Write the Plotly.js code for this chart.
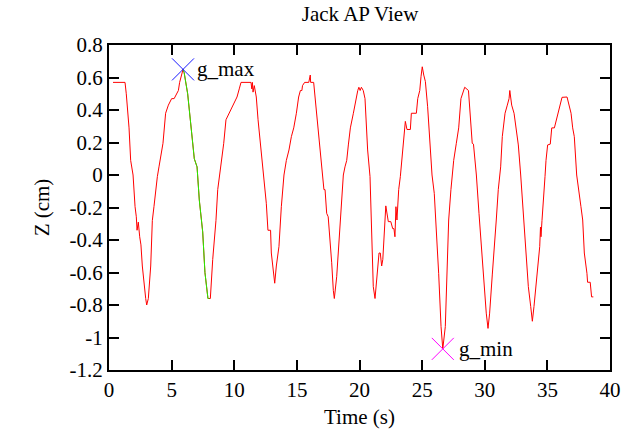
<!DOCTYPE html>
<html>
<head>
<meta charset="utf-8">
<script src="https://cdn.plot.ly/plotly-3.0.1.min.js"></script>
<style>html,body{margin:0;padding:0;background:#fff;}#chart{width:624px;height:440px;}</style>
</head>
<body>
<div id="chart"></div>
<script>
// Main trace: time (s) and Z (cm)
var timeS = [0.32,1.28,1.38,1.6,1.73,1.92,2.08,2.18,2.24,2.34,2.45,2.55,2.66,2.79,2.93,3.01,3.14,3.33,3.46,3.59,3.73,3.86,3.99,4.18,4.31,4.52,4.74,5.0,5.2,5.54,5.64,5.91,6.0,6.28,6.55,6.81,7.03,7.21,7.48,7.66,7.9,8.0,8.09,8.28,8.41,8.54,8.68,8.94,9.16,9.34,9.61,10.0,10.22,10.4,10.54,11.34,11.4,11.45,11.5,11.6,11.76,11.9,12.16,12.35,12.56,12.69,12.9,12.96,13.09,13.23,13.36,13.57,13.76,13.97,14.16,14.37,14.56,14.75,14.96,15.14,15.28,15.4,15.45,15.62,15.95,16.07,16.1,16.34,16.55,16.82,17.0,17.16,17.25,17.38,17.5,17.64,17.78,17.91,17.99,18.18,18.31,18.44,18.58,18.71,18.84,18.98,19.11,19.27,19.51,19.7,19.86,19.95,20.05,20.15,20.3,20.44,20.65,20.84,20.97,21.1,21.24,21.37,21.56,21.66,21.77,21.86,22.04,22.1,22.3,22.5,22.65,22.75,22.83,22.91,22.99,23.13,23.26,23.39,23.53,23.66,23.79,24.06,24.14,24.54,24.65,24.81,24.91,25.01,25.13,25.26,25.44,25.6,25.79,25.97,26.13,26.32,26.51,26.65,26.85,26.99,27.12,27.3,27.52,27.73,27.92,28.1,28.32,28.4,28.7,28.74,29.0,29.1,29.33,29.54,29.76,29.94,30.12,30.26,30.39,30.6,30.74,30.92,31.08,31.27,31.4,31.62,31.8,31.94,32.0,32.1,32.15,32.34,32.47,32.68,32.87,33.05,33.27,33.48,33.67,33.8,33.93,34.07,34.2,34.39,34.45,34.49,34.57,34.7,34.81,34.89,35.02,35.23,35.35,35.56,35.69,35.87,36.03,36.17,36.57,36.7,36.89,37.02,37.15,37.34,37.47,37.68,37.82,37.95,38.16,38.21,38.42,38.53,38.67];
var zCm = [0.57,0.57,0.50,0.29,0.09,0.0,-0.195,-0.257,-0.34,-0.29,-0.38,-0.43,-0.56,-0.68,-0.76,-0.80,-0.76,-0.56,-0.28,-0.195,-0.09,-0.01,0.05,0.13,0.195,0.38,0.43,0.47,0.47,0.52,0.57,0.65,0.63,0.50,0.29,0.10,0.05,-0.154,-0.35,-0.60,-0.76,-0.76,-0.76,-0.52,-0.40,-0.28,-0.09,0.05,0.195,0.34,0.38,0.44,0.48,0.53,0.57,0.57,0.53,0.57,0.51,0.55,0.48,0.34,0.133,0.0,-0.174,-0.34,-0.34,-0.48,-0.56,-0.666,-0.56,-0.44,-0.195,0.0,0.09,0.154,0.236,0.29,0.38,0.48,0.52,0.52,0.55,0.57,0.57,0.615,0.57,0.57,0.40,0.195,0.05,-0.09,-0.09,-0.236,-0.257,-0.38,-0.54,-0.71,-0.76,-0.626,-0.48,-0.277,-0.154,0.0,0.05,0.09,0.185,0.29,0.38,0.47,0.52,0.54,0.52,0.54,0.52,0.47,0.154,-0.01,-0.44,-0.687,-0.76,-0.646,-0.48,-0.48,-0.56,-0.52,-0.195,-0.19,-0.287,-0.287,-0.33,-0.33,-0.38,-0.195,-0.277,-0.09,-0.01,0.113,0.215,0.33,0.28,0.28,0.38,0.38,0.47,0.52,0.605,0.666,0.615,0.575,0.42,0.195,0.0,-0.113,-0.318,-0.605,-0.933,-1.07,-0.933,-0.564,-0.277,-0.09,0.09,0.195,0.29,0.47,0.52,0.54,0.52,0.47,0.195,0.19,0.0,-0.236,-0.46,-0.687,-0.85,-0.944,-0.85,-0.615,-0.44,-0.277,-0.09,0.05,0.236,0.38,0.43,0.47,0.52,0.47,0.43,0.38,0.30,0.185,0.0,-0.195,-0.48,-0.687,-0.81,-0.90,-0.81,-0.687,-0.564,-0.44,-0.32,-0.38,-0.28,-0.09,-0.01,0.09,0.185,0.19,0.29,0.29,0.33,0.38,0.44,0.478,0.48,0.43,0.38,0.29,0.236,0.0,-0.09,-0.195,-0.277,-0.48,-0.605,-0.66,-0.66,-0.75,-0.75];

// Green segment: from g_max down to the following minimum
var segT = [5.91,6.0,6.28,6.55,6.81,7.03,7.21,7.48,7.66,7.9,8.0];
var segZ = [0.65,0.63,0.50,0.29,0.10,0.05,-0.154,-0.35,-0.60,-0.76,-0.76];

// Extremes
var maxT = [5.91], maxZ = [0.65];
var minT = [26.65], minZ = [-1.07];

var xTickVals = [0,5,10,15,20,25,30,35,40];
var xTickText = ["0","5","10","15","20","25","30","35","40"];
var yTickVals = [0.8,0.6,0.4,0.2,0,-0.2,-0.4,-0.6,-0.8,-1,-1.2];
var yTickText = ["0.8","0.6","0.4","0.2","0","-0.2","-0.4","-0.6","-0.8","-1","-1.2"];

var font = "'Liberation Serif', 'Times New Roman', serif";

var traces = [
  {x: timeS, y: zCm, mode: 'lines', line: {color: '#ff0000', width: 1}, hoverinfo: 'skip'},
  {x: segT, y: segZ, mode: 'lines', line: {color: '#22ee00', width: 1}, hoverinfo: 'skip'},
  {x: maxT, y: maxZ, mode: 'markers', marker: {symbol: 'x-thin-open', size: 22, line: {color: '#1a1aff', width: 1}, color: '#1a1aff'}, hoverinfo: 'skip'},
  {x: minT, y: minZ, mode: 'markers', marker: {symbol: 'x-thin-open', size: 22, line: {color: '#ff00ff', width: 1}, color: '#ff00ff'}, hoverinfo: 'skip'}
];

var axisCommon = {
  showgrid: false, zeroline: false, showline: true, linecolor: '#000', linewidth: 2,
  mirror: 'ticks', ticks: 'inside', ticklen: 10, tickwidth: 2, tickcolor: '#000',
  tickfont: {family: font, size: 21, color: '#000'}, tickmode: 'array'
};

var layout = {
  width: 624, height: 440,
  margin: {l: 109, r: 14, t: 45, b: 70},
  paper_bgcolor: '#fff', plot_bgcolor: '#fff',
  showlegend: false,
  title: {text: 'Jack AP View', font: {family: font, size: 21, color: '#000'}, x: 0.577, xanchor: 'center', y: 0.97, yanchor: 'middle', yref: 'container'},
  xaxis: Object.assign({}, axisCommon, {range: [0, 40], tickvals: xTickVals, ticktext: xTickText,
    title: {text: 'Time (s)', font: {family: font, size: 21, color: '#000'}, standoff: 8}}),
  yaxis: Object.assign({}, axisCommon, {range: [-1.2, 0.8], tickvals: yTickVals, ticktext: yTickText,
    title: {text: 'Z (cm)', font: {family: font, size: 21, color: '#000'}, standoff: 14}}),
  annotations: [
    {x: maxT[0], y: maxZ[0], xref: 'x', yref: 'y', text: 'g_max', showarrow: false, xanchor: 'left', yanchor: 'middle', xshift: 12, font: {family: font, size: 21, color: '#000'}},
    {x: minT[0], y: minZ[0], xref: 'x', yref: 'y', text: 'g_min', showarrow: false, xanchor: 'left', yanchor: 'middle', xshift: 14, font: {family: font, size: 21, color: '#000'}}
  ]
};

Plotly.newPlot('chart', traces, layout, {staticPlot: true, displayModeBar: false});
</script>
</body>
</html>
